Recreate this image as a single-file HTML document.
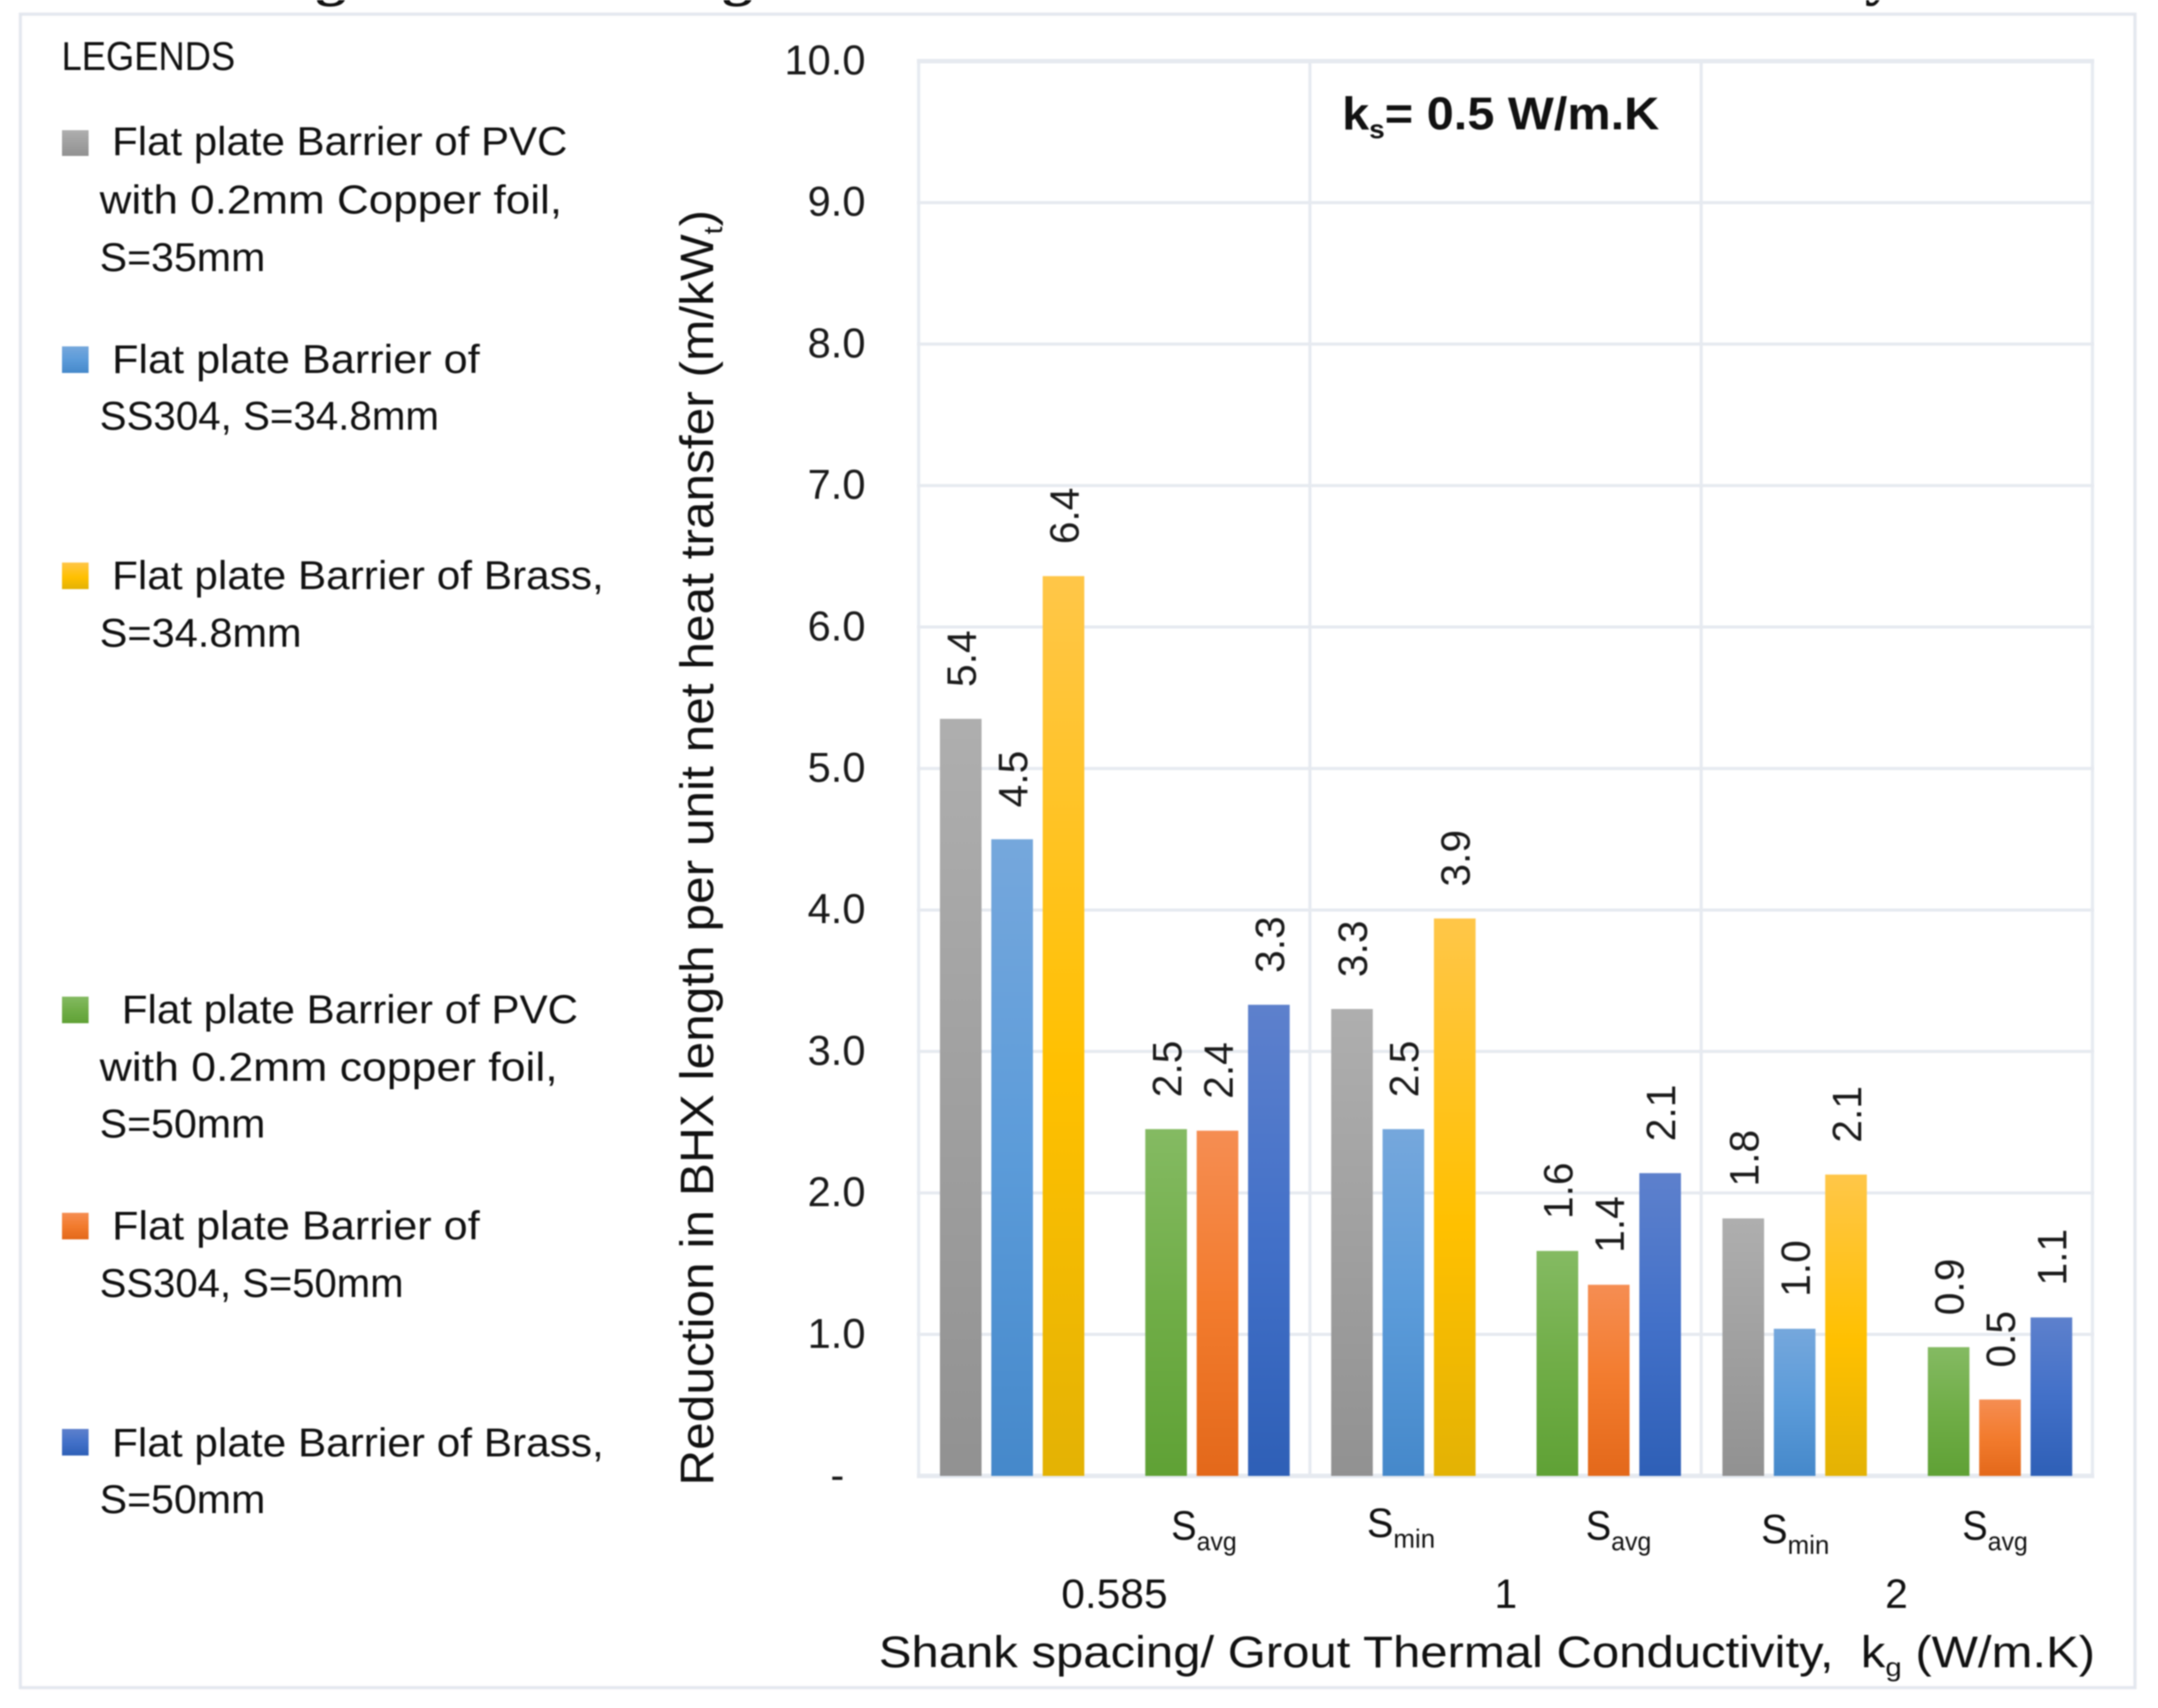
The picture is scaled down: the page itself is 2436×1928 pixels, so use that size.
<!DOCTYPE html>
<html lang="en">
<head>
<meta charset="utf-8">
<title>Reduction in BHX length per unit net heat transfer</title>
<style>
html,body{margin:0;padding:0;background:#fff;width:2436px;height:1928px;overflow:hidden}
svg{display:block;filter:blur(0.7px)}
text{font-family:"Liberation Sans",sans-serif;fill:#111}
.leg{font-size:45px;transform:translate(-0.5px,0px)}
.tick{font-size:47px;text-anchor:end;fill:#1a1a1a}
.val{font-size:46px;fill:#1a1a1a}
.cat{font-size:46px}
.sub{font-size:30px}
</style>
</head>
<body>
<svg id="figure" xmlns="http://www.w3.org/2000/svg" width="2436" height="1928" viewBox="0 0 2436 1928">
<defs>
<linearGradient id="g-gray" x1="0" y1="0" x2="0" y2="1"><stop offset="0" stop-color="#aeaeae"/><stop offset="1" stop-color="#919191"/></linearGradient>
<linearGradient id="g-blue" x1="0" y1="0" x2="0" y2="1"><stop offset="0" stop-color="#75a7dc"/><stop offset=".5" stop-color="#5b9bd9"/><stop offset="1" stop-color="#4588ca"/></linearGradient>
<linearGradient id="g-yellow" x1="0" y1="0" x2="0" y2="1"><stop offset="0" stop-color="#ffc648"/><stop offset=".55" stop-color="#ffc000"/><stop offset="1" stop-color="#e3b204"/></linearGradient>
<linearGradient id="g-green" x1="0" y1="0" x2="0" y2="1"><stop offset="0" stop-color="#84ba62"/><stop offset=".5" stop-color="#70ad47"/><stop offset="1" stop-color="#5fa135"/></linearGradient>
<linearGradient id="g-orange" x1="0" y1="0" x2="0" y2="1"><stop offset="0" stop-color="#f58d52"/><stop offset=".5" stop-color="#f27b2d"/><stop offset="1" stop-color="#e3681a"/></linearGradient>
<linearGradient id="g-navy" x1="0" y1="0" x2="0" y2="1"><stop offset="0" stop-color="#5d80cc"/><stop offset=".5" stop-color="#4270c8"/><stop offset="1" stop-color="#2e5fb6"/></linearGradient>
</defs>

<!-- clipped caption descenders from the cropped title above the figure -->
<g style="font-family:'Liberation Serif',serif;font-weight:bold;font-size:70px">
<text x="356" y="-8" style="font-family:'Liberation Serif',serif;font-size:70px;font-weight:bold">g</text>
<text x="815" y="-8" style="font-family:'Liberation Serif',serif;font-size:70px;font-weight:bold">g</text>
<text x="2105" y="-8" style="font-family:'Liberation Serif',serif;font-size:70px;font-weight:bold">y</text>
</g>

<rect x="23" y="16" width="2387" height="1889" fill="none" stroke="#e3e7ee" stroke-width="3.5"/>

<g id="grid"></g>
<g id="y-ticks"></g>
<g id="bars"></g>
<g id="values"></g>

<!-- legend -->
<g>
<text class="leg" x="70" y="79" textLength="196" lengthAdjust="spacingAndGlyphs">LEGENDS</text>

<g>
<rect x="70" y="147" width="30" height="29" fill="url(#g-gray)"/>
<text class="leg" x="127" y="175" textLength="514" lengthAdjust="spacingAndGlyphs">Flat plate Barrier of PVC</text>
<text class="leg" x="113" y="241" textLength="522" lengthAdjust="spacingAndGlyphs">with 0.2mm Copper foil,</text>
<text class="leg" x="113" y="306" textLength="187" lengthAdjust="spacingAndGlyphs">S=35mm</text>
</g>

<g>
<rect x="70" y="391" width="30" height="30" fill="url(#g-blue)"/>
<text class="leg" x="127" y="421" textLength="415" lengthAdjust="spacingAndGlyphs">Flat plate Barrier of</text>
<text class="leg" x="113" y="485" textLength="383" lengthAdjust="spacingAndGlyphs">SS304, S=34.8mm</text>
</g>

<g>
<rect x="70" y="635" width="30" height="30" fill="url(#g-yellow)"/>
<text class="leg" x="127" y="665" textLength="555" lengthAdjust="spacingAndGlyphs">Flat plate Barrier of Brass,</text>
<text class="leg" x="113" y="730" textLength="228" lengthAdjust="spacingAndGlyphs">S=34.8mm</text>
</g>

<g>
<rect x="70" y="1125" width="30" height="30" fill="url(#g-green)"/>
<text class="leg" x="138" y="1155" textLength="515" lengthAdjust="spacingAndGlyphs">Flat plate Barrier of PVC</text>
<text class="leg" x="113" y="1220" textLength="517" lengthAdjust="spacingAndGlyphs">with 0.2mm copper foil,</text>
<text class="leg" x="113" y="1284" textLength="187" lengthAdjust="spacingAndGlyphs">S=50mm</text>
</g>

<g>
<rect x="70" y="1369" width="30" height="30" fill="url(#g-orange)"/>
<text class="leg" x="127" y="1399" textLength="415" lengthAdjust="spacingAndGlyphs">Flat plate Barrier of</text>
<text class="leg" x="113" y="1464" textLength="343" lengthAdjust="spacingAndGlyphs">SS304, S=50mm</text>
</g>

<g>
<rect x="70" y="1613" width="30" height="30" fill="url(#g-navy)"/>
<text class="leg" x="127" y="1644" textLength="555" lengthAdjust="spacingAndGlyphs">Flat plate Barrier of Brass,</text>
<text class="leg" x="113" y="1708" textLength="187" lengthAdjust="spacingAndGlyphs">S=50mm</text>
</g>
</g>

<!-- annotation -->
<text x="1515" y="146" font-weight="bold" style="font-size:52px;font-weight:bold" textLength="358" lengthAdjust="spacingAndGlyphs">k<tspan dy="10" style="font-size:30px">s</tspan><tspan dy="-10">= 0.5 W/m.K</tspan></text>

<!-- y axis title -->
<text transform="translate(805,1677) rotate(-90)" style="font-size:53px" textLength="1440" lengthAdjust="spacingAndGlyphs">Reduction in BHX length per unit net heat transfer (m/kW<tspan dy="10" style="font-size:30px">t</tspan><tspan dy="-10">)</tspan></text>

<!-- shank-spacing labels -->
<g>
<text class="cat" x="1322" y="1738" textLength="74" lengthAdjust="spacingAndGlyphs">S<tspan class="sub" dy="12">avg</tspan></text>
<text class="cat" x="1543" y="1735" textLength="77" lengthAdjust="spacingAndGlyphs">S<tspan class="sub" dy="12">min</tspan></text>
<text class="cat" x="1790" y="1738" textLength="74" lengthAdjust="spacingAndGlyphs">S<tspan class="sub" dy="12">avg</tspan></text>
<text class="cat" x="1988" y="1742" textLength="77" lengthAdjust="spacingAndGlyphs">S<tspan class="sub" dy="12">min</tspan></text>
<text class="cat" x="2215" y="1738" textLength="74" lengthAdjust="spacingAndGlyphs">S<tspan class="sub" dy="12">avg</tspan></text>
</g>

<!-- grout conductivity group labels -->
<g>
<text class="cat" x="1198" y="1815" textLength="120" lengthAdjust="spacingAndGlyphs">0.585</text>
<text class="cat" x="1687" y="1815">1</text>
<text class="cat" x="2128" y="1815">2</text>
</g>

<text x="992" y="1882" style="font-size:50px" textLength="1373" lengthAdjust="spacingAndGlyphs" xml:space="preserve">Shank spacing/ Grout Thermal Conductivity,  k<tspan dy="10" style="font-size:30px">g</tspan><tspan dy="-10"> (W/m.K)</tspan></text>
</svg>

<script>
// Chart data
const categories = ["Smin-0.585", "Savg-0.585", "Smin-1", "Savg-1", "Smin-2", "Savg-2"];
const pvcS35 = [5.351, null, 3.30, null, 1.82, null];
const ss304S348 = [4.50, null, 2.451, null, 1.04, null];
const brassS348 = [6.36, null, 3.94, null, 2.13, null];
const pvcS50 = [null, 2.451, null, 1.59, null, 0.91];
const ss304S50 = [null, 2.44, null, 1.351, null, 0.54];
const brassS50 = [null, 3.33, null, 2.14, null, 1.12];
const yTicks = [0, 1, 2, 3, 4, 5, 6, 7, 8, 9, 10];
const groupBoundaries = [0, 2, 4, 6];

const SVG_NS = "http://www.w3.org/2000/svg";
const plot = { left: 1037, right: 2362, top: 69, bottom: 1666 };
const yMax = 10;
const catW = (plot.right - plot.left) / categories.length;
const barW = 47;
const pitch = 58;

function yScale(v) { return plot.bottom - (v / yMax) * (plot.bottom - plot.top); }
function catStart(i) { return plot.left + i * catW; }
function barX(cat, slot) { return catStart(cat) + (cat % 2 === 0 ? 24 : 35) + slot * pitch; }

const gridG = document.getElementById("grid");
const tickG = document.getElementById("y-ticks");
const barsG = document.getElementById("bars");
const valG = document.getElementById("values");

yTicks.forEach(function (t) {
  const line = document.createElementNS(SVG_NS, "line");
  
  
  line.setAttribute("x1", plot.left - 2);
  line.setAttribute("x2", plot.right + 2);
  line.setAttribute("y1", yScale(t));
  line.setAttribute("y2", yScale(t));
  line.setAttribute("stroke", "#e6eaf0");
  line.setAttribute("stroke-width", (t === 0 || t === yMax) ? 5 : 3.5);
  gridG.appendChild(line);

  const label = document.createElementNS(SVG_NS, "text");
  
  
  label.setAttribute("class", "tick");
  label.setAttribute("x", t === 0 ? 953 : 977);
  label.setAttribute("y", yScale(t) + 15);
  label.textContent = t === 0 ? "-" : t.toFixed(1);
  tickG.appendChild(label);
});

groupBoundaries.forEach(function (c) {
  const line = document.createElementNS(SVG_NS, "line");
  
  
  const x = catStart(c);
  line.setAttribute("x1", x);
  line.setAttribute("x2", x);
  line.setAttribute("y1", plot.top);
  line.setAttribute("y2", plot.bottom);
  line.setAttribute("stroke", "#e6eaf0");
  line.setAttribute("stroke-width", 3.5);
  gridG.appendChild(line);
});

function drawSeries(values, slot, fill, name) {
  values.forEach(function (v, i) {
    if (v === null) return;
    const x = barX(i, slot);
    const y = yScale(v);
    const rect = document.createElementNS(SVG_NS, "rect");
    
    
    rect.setAttribute("data-series", name);
    rect.setAttribute("data-category", categories[i]);
    rect.setAttribute("x", x);
    rect.setAttribute("y", y);
    rect.setAttribute("width", barW);
    rect.setAttribute("height", plot.bottom - y);
    rect.setAttribute("fill", fill);
    barsG.appendChild(rect);

    const label = document.createElementNS(SVG_NS, "text");
    
    
    label.setAttribute("class", "val");
    label.setAttribute("transform", "translate(" + (x + barW / 2 + 17) + "," + (y - 36) + ") rotate(-90)");
    label.textContent = v.toFixed(1);
    valG.appendChild(label);
  });
}

drawSeries(pvcS35, 0, "url(#g-gray)", "pvc-s35");
drawSeries(ss304S348, 1, "url(#g-blue)", "ss304-s34.8");
drawSeries(brassS348, 2, "url(#g-yellow)", "brass-s34.8");
drawSeries(pvcS50, 0, "url(#g-green)", "pvc-s50");
drawSeries(ss304S50, 1, "url(#g-orange)", "ss304-s50");
drawSeries(brassS50, 2, "url(#g-navy)", "brass-s50");
</script>
</body>
</html>
